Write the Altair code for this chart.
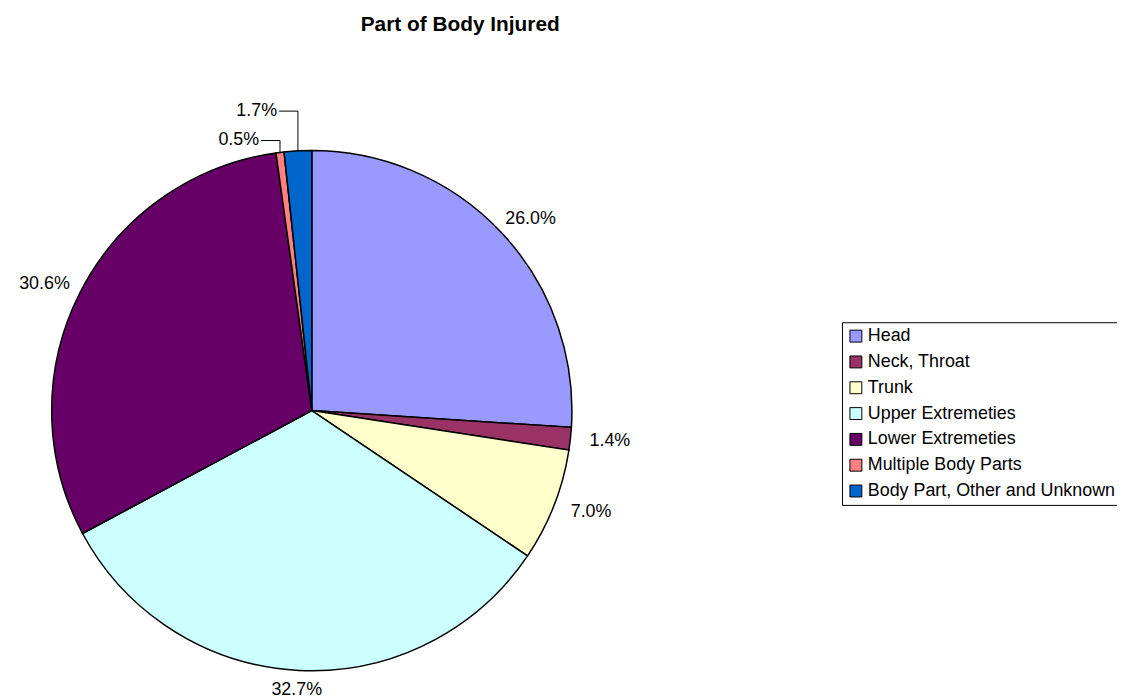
import altair as alt
import pandas as pd

categories = ["Head", "Neck, Throat", "Trunk", "Upper Extremeties",
              "Lower Extremeties", "Multiple Body Parts", "Body Part, Other and Unknown"]
percents = [26.0, 1.4, 7.0, 32.7, 30.6, 0.5, 1.7]
colors = ["#9999FF", "#993366", "#FFFFCC", "#CCFFFF", "#660066", "#FF8080", "#0066CC"]
# labels drawn with leader lines (lift of the elbow above the slice edge, px)
leader_lift = {"Multiple Body Parts": 12, "Body Part, Other and Unknown": 40}

df = pd.DataFrame({
    "cat": categories,
    "v": percents,
    "idx": list(range(len(categories))),
    "lift": [leader_lift.get(c, 0) for c in categories],
})

CX, CY, R = 306, 403, 262
FONT = "Liberation Sans"

base = alt.Chart(df)

pie = base.mark_arc(radius=R, stroke="black", strokeWidth=1.5).encode(
    theta=alt.Theta("v:Q", stack=True),
    order=alt.Order("idx:Q", sort="ascending"),
    color=alt.Color(
        "cat:N",
        scale=alt.Scale(domain=categories, range=colors),
        sort=categories,
        legend=alt.Legend(
            orient="none", legendX=840, legendY=314, title=None,
            symbolType="square", symbolSize=144, symbolStrokeColor="black",
            symbolStrokeWidth=1, symbolOpacity=1,
            labelFont=FONT, labelFontSize=18, labelColor="black",
            labelOffset=3, rowPadding=8, padding=5, labelLimit=400,
            strokeColor="black", fillColor="white",
        ),
    ),
    x=alt.value(CX),
    y=alt.value(CY),
)

geo = (
    base.transform_window(cum="sum(v)", sort=[alt.SortField("idx")], frame=[None, 0])
    .transform_joinaggregate(total="sum(v)")
    .transform_calculate(a="2*PI*(datum.cum - datum.v/2)/datum.total")
    .transform_calculate(
        label="format(datum.v, '.1f') + '%'",
        lx=f"{CX} + {R + 40}*sin(datum.a)",
        ly=f"{CY} - {R + 20}*cos(datum.a)",
        ex=f"{CX} + {R}*sin(datum.a)",
        ey=f"{CY} - {R}*cos(datum.a)",
    )
    .transform_calculate(
        ey2="datum.ey - datum.lift",
        hx="datum.ex - 19",
        tx="datum.ex - 21",
    )
)

main_labels = geo.transform_filter("datum.lift == 0").mark_text(
    font=FONT, fontSize=18, color="black", align="center", baseline="middle"
).encode(
    x=alt.X("lx:Q", scale=None),
    y=alt.Y("ly:Q", scale=None),
    text="label:N",
)

small = geo.transform_filter("datum.lift > 0")

leader_v = small.mark_rule(color="black", strokeWidth=1).encode(
    x=alt.X("ex:Q", scale=None), y=alt.Y("ey:Q", scale=None),
    x2="ex:Q", y2="ey2:Q",
)
leader_h = small.mark_rule(color="black", strokeWidth=1).encode(
    x=alt.X("hx:Q", scale=None), y=alt.Y("ey2:Q", scale=None),
    x2="ex:Q", y2="ey2:Q",
)
small_labels = small.mark_text(
    font=FONT, fontSize=18, color="black", align="right", baseline="middle"
).encode(
    x=alt.X("tx:Q", scale=None),
    y=alt.Y("ey2:Q", scale=None),
    text="label:N",
)

chart = alt.layer(pie, main_labels, leader_v, leader_h, small_labels).properties(
    width=1117, height=691, autosize="none", padding=0,
    background="white",
    title=alt.TitleParams(
        "Part of Body Injured", font=FONT, fontSize=21, fontWeight="bold",
        color="black", anchor="middle", dx=-103, offset=0, dy=25,
    ),
).configure_view(stroke=None)

chart.save("out.html", embed_options={"renderer": "svg", "actions": False})
